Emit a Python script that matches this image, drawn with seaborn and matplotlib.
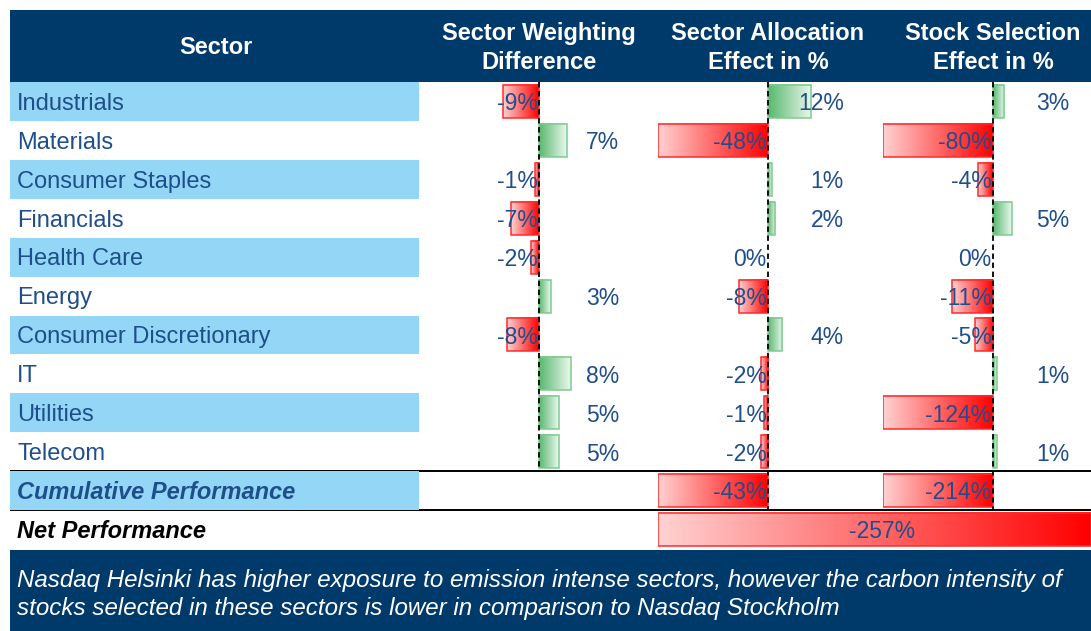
import numpy as np
import pandas as pd
import matplotlib
matplotlib.use("Agg")
import matplotlib.pyplot as plt
import seaborn as sns
from matplotlib.patches import Rectangle

# ---------------- data ----------------
sectors = ["Industrials", "Materials", "Consumer Staples", "Financials", "Health Care",
           "Energy", "Consumer Discretionary", "IT", "Utilities", "Telecom"]
summary_rows = ["Cumulative Performance", "Net Performance"]
weighting_diff = [-9, 7, -1, -7, -2, 3, -8, 8, 5, 5]
allocation_effect = [12, -48, 1, 2, 0, -8, 4, -2, -1, -2]
selection_effect = [3, -80, -4, 5, 0, -11, -5, 1, -124, 1]
cum_allocation = -43
cum_selection = -214
net_performance = -257
headers = ["Sector", "Sector Weighting\nDifference", "Sector Allocation\nEffect in %",
           "Stock Selection\nEffect in %"]
note_lines = ["Nasdaq Helsinki has higher exposure to emission intense sectors, however the carbon intensity of",
              "stocks selected in these sectors is lower in comparison to Nasdaq Stockholm"]

# ---------------- style ----------------
sns.set_style("white")
plt.rcParams["font.family"] = ["Liberation Sans", "DejaVu Sans"]

NAVY = "#003A6B"
LIGHT = "#93D6F6"
TXT = "#1F4E8C"
RED = np.array([255, 0, 0]) / 255
RED_FAR = np.array([255, 210, 210]) / 255
RED_EDGE = "#FF2A2A"
GREEN = np.array([88, 184, 110]) / 255
GREEN_FAR = np.array([236, 248, 239]) / 255
GREEN_EDGE = "#7DCB90"
TY = 0.06  # small downward nudge of row texts (in row units)

W, H = 1091, 631
fig = plt.figure(figsize=(W / 100, H / 100), dpi=100)

rows = sectors + summary_rows
TOP, BOT = 82, 549


def px_axes(x0, x1, y0, y1, zorder=1):
    ax = fig.add_axes([x0 / W, 1 - y1 / H, (x1 - x0) / W, (y1 - y0) / H], zorder=zorder)
    ax.patch.set_alpha(0)
    return ax


# background: header, footer, separator lines
bg = px_axes(0, W, 0, H, zorder=0)
bg.set_xlim(0, W)
bg.set_ylim(H, 0)
bg.axis("off")
bg.add_patch(Rectangle((10, 10), W - 10, 71.5, color=NAVY, lw=0))
bg.add_patch(Rectangle((10, 549.5), W - 10, H - 549.5, color=NAVY, lw=0))
row_h = (BOT - TOP) / len(rows)
for k in (10, 11):
    bg.plot([10, W], [TOP + k * row_h] * 2, color="black", lw=1.4, solid_capstyle="butt")

header_x = [216, 539, 768, 993]
for hx, htxt in zip(header_x, headers):
    bg.text(hx, 48, htxt, color="white", fontsize=17, fontweight="bold",
            ha="center", va="center", linespacing=1.32)

bg.text(17, 580, note_lines[0], color="white", fontsize=17.4, style="italic", ha="left", va="center")
bg.text(17, 608, note_lines[1], color="white", fontsize=17.4, style="italic", ha="left", va="center")

# sector label column
lab = px_axes(10, 419, TOP, BOT, zorder=1)
lab.set_xlim(0, 409)
lab.set_ylim(len(rows) - 0.5, -0.5)
lab.axis("off")
for i, name in enumerate(rows):
    if i % 2 == 0 and i < len(rows) - 1:
        lab.axhspan(i - 0.5, i + 0.5, color=LIGHT, lw=0)
    if name == "Cumulative Performance":
        lab.text(7, i + TY, name, fontsize=17, color=TXT, fontweight="bold", style="italic", va="center")
    elif name == "Net Performance":
        lab.text(7, i + TY, name, fontsize=17, color="black", fontweight="bold", style="italic", va="center")
    else:
        lab.text(7, i + TY, name, fontsize=17, color=TXT, va="center")


def style_bars(ax, lo, hi):
    for p in list(ax.patches):
        w = p.get_width()
        if w == 0 or np.isnan(w):
            p.set_visible(False)
            continue
        a, b = sorted([p.get_x(), p.get_x() + w])
        a, b = max(a, lo), min(b, hi)
        p.set_x(a)
        p.set_width(b - a)
        t = np.linspace(0, 1, 256)[:, None]
        if w < 0:
            cols = RED_FAR + (RED - RED_FAR) * t  # left far -> right (zero) strong
            edge = RED_EDGE
        else:
            cols = GREEN + (GREEN_FAR - GREEN) * t  # left (zero) strong -> right far
            edge = GREEN_EDGE
        y0, hh = p.get_y(), p.get_height()
        ax.imshow(cols[None, :, :], extent=(a, b, y0 + hh, y0), aspect="auto",
                  interpolation="bilinear", zorder=2)
        p.set_facecolor("none")
        p.set_edgecolor(edge)
        p.set_linewidth(1.1)
        p.set_zorder(3)


def bar_column(x_left, x_zero, x_right, scale, names, values, pos_label_px, dash_last_row):
    ax = px_axes(x_left, x_right, TOP, BOT, zorder=2)
    df = pd.DataFrame({"row": names, "value": values})
    sns.barplot(data=df, x="value", y="row", order=rows, orient="h", ax=ax,
                width=0.85, errorbar=None, color="red")
    lo, hi = -(x_zero - x_left) / scale, (x_right - x_zero) / scale
    style_bars(ax, lo, hi)
    ax.plot([0, 0], [-0.5, dash_last_row + 0.5], color="black", lw=1.3,
            dashes=(3, 2), zorder=4)
    for name, v in zip(names, values):
        i = rows.index(name)
        if v > 0:
            x = (pos_label_px - x_zero) / scale
        else:
            x = -1.5 / scale
        ax.text(x, i + TY, f"{v}%", ha="right", va="center", fontsize=16.5, color=TXT, zorder=5)
    ax.set_xlim(lo, hi)
    ax.set_ylim(len(rows) - 0.5, -0.5)
    ax.axis("off")
    return ax


bar_column(420, 539, 655, 4.0, sectors, weighting_diff, 619, 9)
bar_column(658, 768, 881, 3.6, sectors + ["Cumulative Performance"],
           allocation_effect + [cum_allocation], 844, 10)
bar_column(883, 993, W, 3.7, sectors + ["Cumulative Performance"],
           selection_effect + [cum_selection], 1069, 10)

# net performance bar spanning the two effect columns
axn = px_axes(658, W, TOP, BOT, zorder=3)
dfn = pd.DataFrame({"row": ["Net Performance"], "value": [net_performance]})
sns.barplot(data=dfn, x="value", y="row", order=rows, orient="h", ax=axn,
            width=0.85, errorbar=None, color="red")
style_bars(axn, net_performance, 0)
axn.text(net_performance + (882 - 658) / (W - 658) * (-net_performance), rows.index("Net Performance") + TY,
         f"{net_performance}%", ha="center", va="center", fontsize=16.5, color=TXT, zorder=5)
axn.set_xlim(net_performance, 0)
axn.set_ylim(len(rows) - 0.5, -0.5)
axn.axis("off")

fig.savefig("out.png", dpi=100)
